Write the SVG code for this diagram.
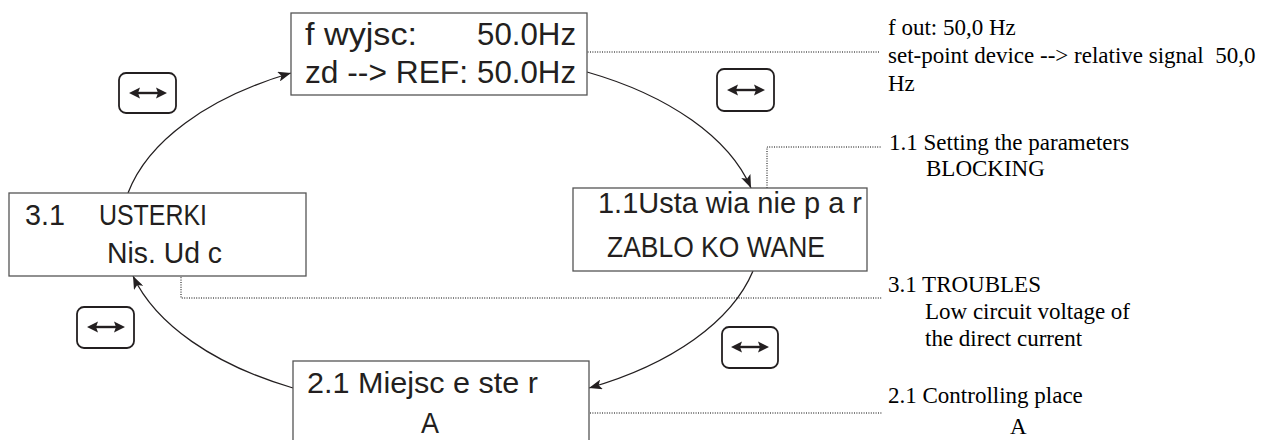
<svg xmlns="http://www.w3.org/2000/svg" width="1274" height="440" viewBox="0 0 1274 440">
<style>
.box{fill:#fff;stroke:#555;stroke-width:1.3}
.lcd{font-family:"Liberation Sans",Arial,sans-serif;fill:#231f20}
.note{font-family:"Liberation Serif","Times New Roman",serif;font-size:23px;fill:#000}
.arc{fill:none;stroke:#231f20;stroke-width:1.3}
.dot{fill:none;stroke:#000;stroke-width:1;stroke-dasharray:1 1.4}
.btn{fill:#fff;stroke:#231f20;stroke-width:1.8}
.dbl{fill:none;stroke:#231f20;stroke-width:2.4}
.hd{fill:#231f20}
</style>
<defs>
<marker id="ah" viewBox="0 0 13 10" refX="13" refY="5" markerWidth="13" markerHeight="10" markerUnits="userSpaceOnUse" orient="auto">
<path d="M0,0 L13,5 L0,10 L3,5 z" fill="#231f20"/>
</marker>
<path id="dbl" d="M0,0 L11,-5.5 L9,0 L11,5.5 z M38,0 L27,-5.5 L29,0 L27,5.5 z"/>
</defs>

<g id="connectors">
<path class="arc" d="M128,193 A319,177 0 0 1 291,73" marker-end="url(#ah)"/>
<path class="arc" d="M587,72 A319,177 0 0 1 751,188" marker-end="url(#ah)"/>
<path class="arc" d="M753,271 A319,177 0 0 1 589,388" marker-end="url(#ah)"/>
<path class="arc" d="M293,388 A319,177 0 0 1 133,276" marker-end="url(#ah)"/>
<path class="dot" d="M578,52 H879"/>
<path class="dot" d="M767,188 V147 H882"/>
<path class="dot" d="M181,258 V298 H882"/>
<path class="dot" d="M578,413 H882"/>
</g>

<g id="node-top">
<rect class="box" x="291" y="13" width="296" height="82"/>
<text class="lcd" x="305" y="45" font-size="32" textLength="112" lengthAdjust="spacingAndGlyphs">f wyjsc:</text>
<text class="lcd" x="477" y="45" font-size="32" textLength="99" lengthAdjust="spacingAndGlyphs">50.0Hz</text>
<text class="lcd" x="305" y="83" font-size="32" textLength="163" lengthAdjust="spacingAndGlyphs">zd --&gt; REF:</text>
<text class="lcd" x="477" y="83" font-size="32" textLength="99" lengthAdjust="spacingAndGlyphs">50.0Hz</text>
</g>

<g id="node-right">
<rect class="box" x="573" y="188" width="294" height="83"/>
<text class="lcd" x="598" y="213" font-size="29" textLength="264" lengthAdjust="spacingAndGlyphs">1.1Usta wia nie p a r</text>
<text class="lcd" x="607" y="257" font-size="29" textLength="218" lengthAdjust="spacingAndGlyphs">ZABLO KO WANE</text>
</g>

<g id="node-bottom">
<rect class="box" x="293" y="361" width="296" height="90"/>
<text class="lcd" x="307" y="393" font-size="29" textLength="231" lengthAdjust="spacingAndGlyphs">2.1 Miejsc e ste r</text>
<text class="lcd" x="421" y="433" font-size="29" textLength="18" lengthAdjust="spacingAndGlyphs">A</text>
</g>

<g id="node-left">
<rect class="box" x="9" y="193" width="297" height="83"/>
<text class="lcd" x="25" y="225" font-size="29" textLength="40" lengthAdjust="spacingAndGlyphs">3.1</text>
<text class="lcd" x="99" y="225" font-size="29" textLength="108" lengthAdjust="spacingAndGlyphs">USTERKI</text>
<text class="lcd" x="107" y="263" font-size="29" textLength="115" lengthAdjust="spacingAndGlyphs">Nis. Ud c</text>
</g>

<g id="btn-top-left">
<rect class="btn" x="119" y="73" width="57" height="40" rx="7"/>
<path class="dbl" d="M136,93 H160"/>
<use href="#dbl" class="hd" x="129" y="93"/>
</g>
<g id="btn-top-right">
<rect class="btn" x="717" y="69" width="57" height="42" rx="7"/>
<path class="dbl" d="M735,90 H758"/>
<use href="#dbl" class="hd" x="727" y="90"/>
</g>
<g id="btn-bottom-right">
<rect class="btn" x="722" y="327" width="56" height="41" rx="7"/>
<path class="dbl" d="M739,347 H763"/>
<use href="#dbl" class="hd" x="731" y="347"/>
</g>
<g id="btn-bottom-left">
<rect class="btn" x="77" y="307" width="57" height="41" rx="7"/>
<path class="dbl" d="M94,327 H118"/>
<use href="#dbl" class="hd" x="87" y="327"/>
</g>

<g id="notes">
<text class="note" x="888" y="35">f out: 50,0 Hz</text>
<text class="note" x="888" y="63" xml:space="preserve">set-point device --&gt; relative signal  50,0</text>
<text class="note" x="888" y="91">Hz</text>
<text class="note" x="889" y="150">1.1 Setting the parameters</text>
<text class="note" x="926" y="176">BLOCKING</text>
<text class="note" x="888" y="292">3.1 TROUBLES</text>
<text class="note" x="925" y="319">Low circuit voltage of</text>
<text class="note" x="925" y="346">the direct current</text>
<text class="note" x="888" y="403">2.1 Controlling place</text>
<text class="note" x="1010" y="434">A</text>
</g>
</svg>
